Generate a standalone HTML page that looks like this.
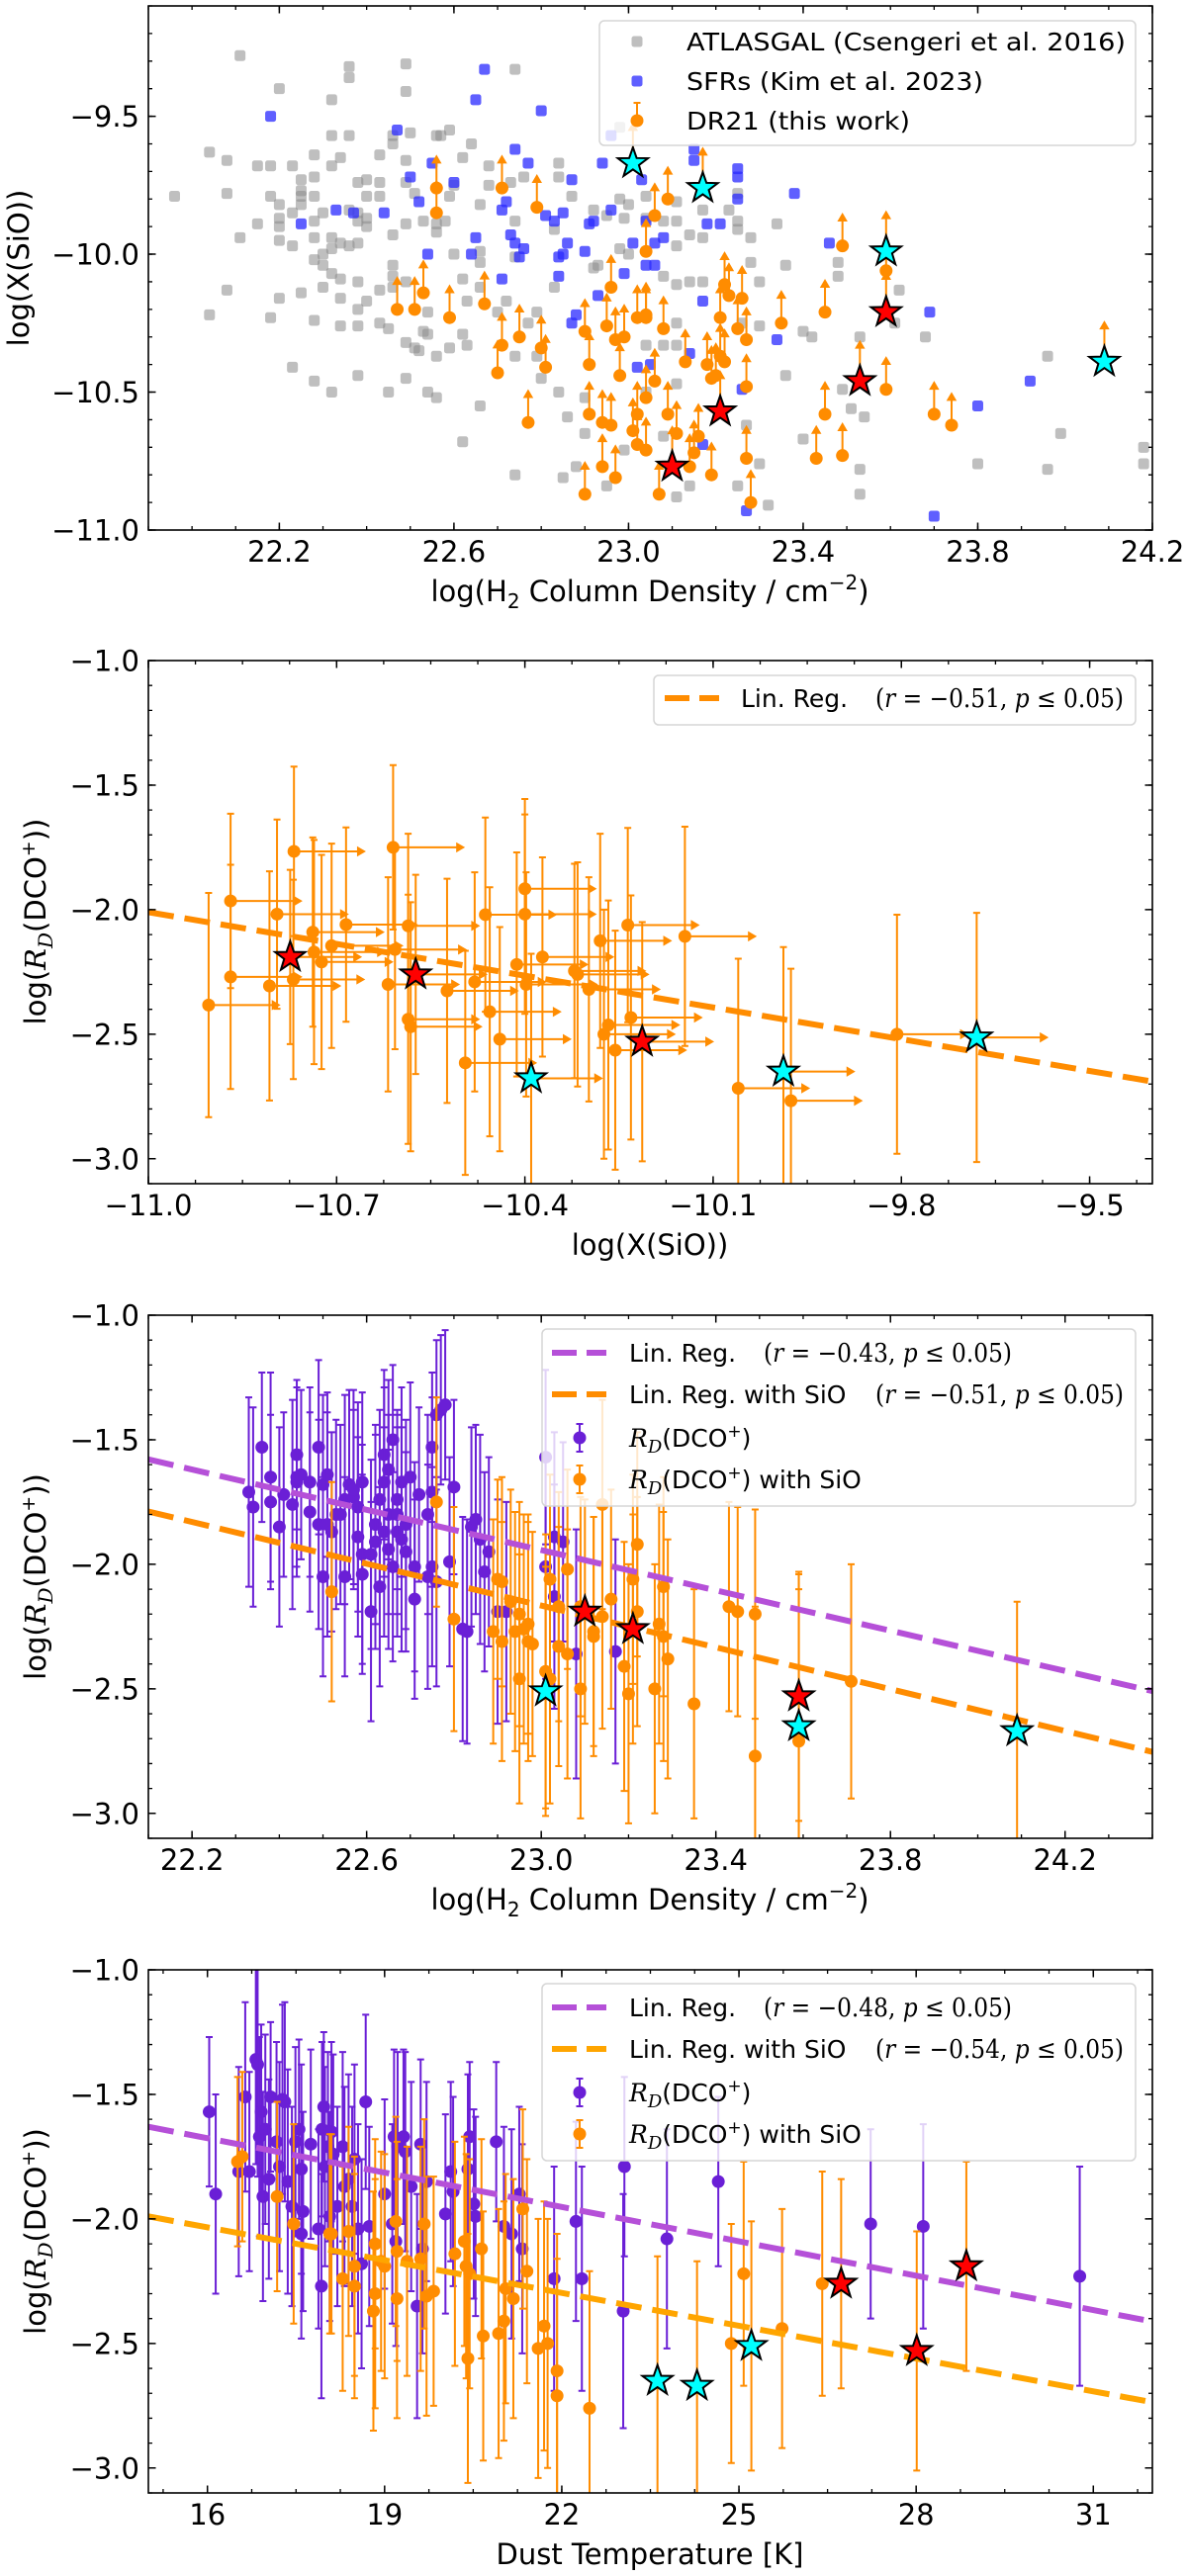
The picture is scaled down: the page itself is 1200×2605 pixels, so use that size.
<!DOCTYPE html>
<html><head><meta charset="utf-8">
<style>
body{margin:0;background:#fff}
svg{display:block}
text{font-family:"DejaVu Sans","Liberation Sans",sans-serif;fill:#000}
.m{font-family:"DejaVu Serif","Liberation Serif",serif}
</style></head>
<body>
<svg id="fig" width="1200" height="2605" viewBox="0 0 1200 2605" xmlns="http://www.w3.org/2000/svg"></svg>
<script>
// ---------- Panel 1 data ----------
const atlasX=[21.96,22.04,22.04,22.08,22.08,22.08,22.11,22.11,22.15,22.15,22.18,22.18,22.18,22.20,22.20,22.20,22.20,22.20,22.20,22.23,22.23,22.23,22.23,22.25,22.25,22.25,22.25,22.25,22.28,22.28,22.28,22.28,22.28,22.28,22.28,22.28,22.30,22.30,22.30,22.30,22.32,22.32,22.32,22.32,22.32,22.32,22.32,22.34,22.34,22.34,22.34,22.34,22.36,22.36,22.36,22.36,22.36,22.38,22.38,22.38,22.38,22.38,22.38,22.38,22.38,22.40,22.40,22.40,22.40,22.40,22.43,22.43,22.43,22.43,22.43,22.45,22.45,22.46,22.46,22.46,22.46,22.46,22.46,22.49,22.49,22.49,22.49,22.49,22.49,22.49,22.49,22.50,22.51,22.51,22.52,22.53,22.53,22.54,22.54,22.54,22.56,22.56,22.56,22.56,22.56,22.57,22.58,22.59,22.59,22.59,22.60,22.60,22.62,22.62,22.62,22.62,22.63,22.64,22.63,22.66,22.66,22.66,22.66,22.66,22.68,22.68,22.70,22.72,22.73,22.74,22.74,22.74,22.74,22.74,22.76,22.77,22.79,22.79,22.80,22.83,22.83,22.84,22.84,22.85,22.84,22.86,22.87,22.88,22.90,22.90,22.92,22.92,
22.98,22.98,23.00,22.95,22.99,22.98,23.00,22.93,23.04,23.04,23.08,23.11,23.11,23.11,23.11,23.14,23.17,23.17,23.17,23.14,23.08,23.11,23.11,23.08,23.04,23.11,23.04,23.08,22.99,22.95,23.14,23.11,23.23,23.25,23.25,23.25,23.28,23.28,23.30,23.30,23.26,23.27,23.30,23.25,23.32,23.34,23.36,23.36,23.40,23.42,23.40,23.48,23.48,23.49,23.51,23.53,23.54,23.53,23.53,23.61,23.62,23.68,23.80,23.96,23.96,23.99,24.18,24.18];
const atlasY=[-9.79,-9.63,-10.22,-9.66,-9.78,-10.13,-9.28,-9.94,-9.68,-9.89,-9.68,-9.79,-10.23,-9.40,-9.82,-9.87,-9.90,-9.95,-10.16,-9.68,-9.85,-9.97,-10.41,-9.73,-9.77,-9.79,-9.82,-10.14,-9.64,-9.72,-9.79,-9.88,-9.94,-10.02,-10.24,-10.46,-9.85,-10.00,-10.04,-10.12,-9.44,-9.57,-9.68,-9.94,-9.98,-10.07,-10.50,-9.65,-9.96,-10.09,-10.16,-10.26,-9.32,-9.36,-9.57,-9.84,-9.97,-9.74,-9.85,-9.88,-9.96,-10.10,-10.20,-10.26,-10.44,-9.73,-9.79,-9.87,-9.90,-10.17,-9.64,-9.74,-9.79,-10.13,-10.25,-10.27,-10.50,-9.57,-9.60,-9.93,-10.04,-10.08,-10.12,-9.31,-9.41,-9.66,-9.74,-9.89,-10.10,-10.32,-10.45,-9.56,-9.78,-10.34,-10.35,-9.88,-10.28,-10.21,-10.29,-10.50,-9.57,-9.89,-9.92,-10.37,-10.52,-9.57,-9.88,-9.55,-9.79,-10.34,-10.00,-9.75,-9.65,-10.09,-10.29,-10.68,-10.33,-9.60,-10.17,-9.82,-9.99,-10.03,-10.12,-10.55,-9.68,-9.75,-10.21,-10.17,-9.74,-9.33,-9.88,-10.01,-10.37,-10.80,-9.72,-10.25,-10.37,-10.21,-10.45,-9.91,-10.12,-9.72,-9.67,-10.81,-10.50,-10.59,-9.79,-10.77,-10.65,-10.52,-10.05,-9.84,
-9.54,-9.80,-9.82,-9.86,-9.87,-9.98,-10.00,-10.04,-9.79,-9.87,-9.88,-9.81,-9.88,-9.97,-10.11,-9.93,-9.84,-9.94,-10.10,-10.10,-10.08,-10.25,-10.33,-10.33,-10.33,-10.47,-10.50,-10.66,-10.71,-10.84,-10.84,-10.88,-9.84,-9.78,-9.88,-9.91,-9.94,-10.03,-10.10,-10.26,-10.25,-10.62,-10.76,-10.84,-10.91,-9.89,-10.04,-10.44,-10.28,-10.30,-10.67,-10.03,-10.08,-10.49,-10.56,-10.30,-10.59,-10.78,-10.87,-10.25,-10.13,-10.30,-10.76,-10.37,-10.78,-10.65,-10.70,-10.76];
const sfrX=[22.18,22.25,22.33,22.37,22.44,22.47,22.50,22.52,22.54,22.55,22.60,22.64,22.65,22.65,22.67,22.71,22.72,22.71,22.73,22.74,22.74,22.75,22.76,22.77,22.80,22.81,22.83,22.84,22.84,22.85,22.86,22.85,22.87,22.87,22.88,22.90,22.91,
22.94,22.92,22.96,23.03,22.93,23.01,23.04,23.06,23.04,23.06,23.08,22.99,23.02,23.05,23.15,23.15,23.18,23.21,23.17,23.14,23.25,23.25,23.25,23.26,23.17,23.27,23.34,23.38,23.46,23.69,23.92,23.80,23.70,22.96];
const sfrY=[-9.50,-9.89,-9.84,-9.85,-9.85,-9.55,-9.72,-9.81,-10.00,-9.67,-9.74,-10.00,-9.44,-9.94,-9.33,-9.84,-9.81,-10.09,-9.93,-9.62,-9.96,-10.01,-9.98,-9.67,-9.48,-9.86,-9.88,-10.01,-10.08,-10.00,-9.96,-9.85,-9.73,-10.25,-10.22,-9.99,-9.89,
-9.67,-9.88,-9.84,-9.73,-10.15,-9.96,-10.04,-10.04,-9.88,-9.96,-9.94,-10.07,-10.41,-10.40,-9.62,-9.66,-9.89,-9.89,-10.17,-10.36,-9.69,-9.72,-9.80,-10.49,-10.69,-10.93,-10.31,-9.78,-9.96,-10.21,-10.46,-10.55,-10.95,-9.57];
const dr21X=[22.56,22.56,22.47,22.51,22.53,22.59,22.67,22.71,22.71,22.70,22.75,22.77,22.79,22.80,22.81,22.90,22.91,22.91,22.90,
23.09,23.06,23.04,22.96,22.95,22.97,22.99,22.98,23.02,23.04,23.04,23.08,23.06,23.04,23.02,22.94,22.96,23.01,23.02,23.04,22.94,22.97,23.07,23.09,23.11,23.13,23.14,23.15,23.16,23.19,23.18,23.19,23.21,23.22,23.20,23.21,23.22,23.23,23.25,23.26,23.27,23.27,23.27,23.28,23.35,23.43,23.45,23.45,23.49,23.49,23.59,23.59,23.70,23.74];
const dr21Y=[-9.85,-9.76,-10.20,-10.20,-10.14,-10.23,-10.18,-9.76,-10.33,-10.43,-10.30,-10.61,-9.83,-10.34,-10.41,-10.28,-10.40,-10.58,-10.87,
-9.80,-9.86,-9.99,-10.12,-10.26,-10.31,-10.30,-10.44,-10.23,-10.22,-10.23,-10.27,-10.46,-10.52,-10.58,-10.61,-10.62,-10.64,-10.69,-10.71,-10.77,-10.81,-10.87,-10.58,-10.65,-10.39,-10.77,-10.72,-10.66,-10.80,-10.40,-10.45,-10.37,-10.39,-10.44,-10.23,-10.11,-10.15,-10.27,-10.16,-10.31,-10.48,-10.74,-10.90,-10.25,-10.74,-10.58,-10.21,-10.73,-9.97,-10.06,-10.49,-10.58,-10.62];
const p1CyanX=[23.01,23.17,23.59,24.09];
const p1CyanY=[-9.67,-9.76,-9.99,-10.39];
const p1RedX=[23.59,23.53,23.21,23.10];
const p1RedY=[-10.21,-10.46,-10.57,-10.77];
const p1XTicks=[22.2,22.6,23.0,23.4,23.8,24.2];
const p1XTickLabels=["22.2","22.6","23.0","23.4","23.8","24.2"];
const p1YTicks=[-9.5,-10.0,-10.5,-11.0];
const p1YTickLabels=["\u22129.5","\u221210.0","\u221210.5","\u221211.0"];

// ---------- Panel 2 data ----------
const p2X=[-10.904,-10.869,-10.869,-10.807,-10.795,-10.774,-10.768,-10.769,-10.738,-10.736,-10.724,-10.708,-10.685,-10.618,-10.61,-10.607,-10.586,-10.574,-10.586,-10.582,-10.524,-10.495,-10.48,-10.463,-10.456,-10.44,-10.413,-10.40,-10.40,-10.398,-10.39,-10.372,-10.321,-10.316,-10.298,-10.28,-10.274,-10.267,-10.256,-10.236,-10.231,-10.213,-10.145,-10.06,-9.988,-9.976,-9.807,-9.68];
const p2Y=[-2.383,-1.965,-2.27,-2.306,-2.018,-2.19,-1.766,-2.28,-2.09,-2.17,-2.21,-2.145,-2.06,-2.30,-1.75,-2.16,-2.065,-2.26,-2.44,-2.47,-2.326,-2.615,-2.29,-2.02,-2.41,-2.52,-2.22,-1.916,-2.018,-2.30,-2.677,-2.19,-2.246,-2.26,-2.32,-2.125,-2.50,-2.463,-2.564,-2.062,-2.433,-2.53,-2.107,-2.717,-2.65,-2.767,-2.50,-2.513];
const p2Err=[0.45,0.35,0.45,0.46,0.38,0.35,0.34,0.40,0.38,0.45,0.43,0.41,0.39,0.43,0.33,0.40,0.37,0.40,0.50,0.50,0.45,0.45,0.44,0.39,0.50,0.45,0.45,0.36,0.40,0.45,0.50,0.40,0.43,0.45,0.45,0.43,0.50,0.50,0.48,0.39,0.49,0.48,0.44,0.52,0.50,0.53,0.48,0.50];
const p2RedX=[-10.774,-10.574,-10.213];
const p2RedY=[-2.19,-2.26,-2.53];
const p2CyanX=[-10.39,-9.988,-9.68];
const p2CyanY=[-2.677,-2.65,-2.513];
const p2LineX=[-11.0,-9.4];
const p2LineY=[-2.01,-2.69];
const p2XTicks=[-11.0,-10.7,-10.4,-10.1,-9.8,-9.5];
const p2XTickLabels=["\u221211.0","\u221210.7","\u221210.4","\u221210.1","\u22129.8","\u22129.5"];
const rdYTicks=[-1.0,-1.5,-2.0,-2.5,-3.0];
const rdYTickLabels=["\u22121.0","\u22121.5","\u22122.0","\u22122.5","\u22123.0"];

// ---------- Panel 3 data ----------
const p3PurX=[22.33,22.34,22.36,22.38,22.38,22.40,22.41,22.43,22.44,22.44,22.44,22.45,22.47,22.47,22.49,22.49,22.50,22.50,22.51,22.51,22.52,22.53,22.54,22.55,22.55,22.56,22.57,22.57,22.58,22.58,22.59,22.59,22.59,22.61,22.61,22.62,22.62,22.63,22.63,22.64,22.64,22.64,22.65,22.65,22.65,22.66,22.66,22.67,22.67,22.67,22.68,22.68,22.69,22.69,22.70,22.71,22.71,22.72,22.74,22.74,22.75,22.75,22.75,22.76,22.76,22.77,22.78,22.79,22.80,22.82,22.83,22.84,22.85,22.86,22.87,22.88,22.90,22.92,23.01,23.01,23.03,23.03,23.05,23.08,23.17];
const p3PurY=[-1.71,-1.77,-1.53,-1.65,-1.75,-1.85,-1.72,-1.76,-1.67,-1.56,-1.65,-1.64,-1.79,-1.67,-1.53,-1.84,-2.05,-1.68,-1.64,-1.84,-1.87,-1.80,-1.80,-1.74,-2.05,-1.68,-1.73,-1.70,-1.77,-1.89,-1.67,-1.96,-2.04,-1.96,-2.19,-1.84,-1.91,-1.74,-2.09,-1.87,-1.56,-1.67,-1.80,-1.94,-1.62,-2.01,-1.50,-1.87,-1.74,-1.80,-1.90,-1.67,-1.95,-1.84,-1.65,-2.01,-2.14,-1.72,-1.80,-2.05,-1.53,-1.71,-2.01,-2.07,-1.40,-1.38,-1.36,-1.99,-1.69,-2.26,-2.27,-1.85,-1.82,-1.90,-2.03,-1.95,-2.19,-2.19,-1.57,-2.01,-1.89,-2.13,-1.91,-2.36,-2.35];
const p3PurErr=[0.38,0.40,0.30,0.42,0.35,0.40,0.33,0.42,0.38,0.30,0.36,0.34,0.40,0.38,0.35,0.42,0.40,0.36,0.33,0.45,0.40,0.38,0.36,0.42,0.40,0.38,0.35,0.40,0.42,0.40,0.36,0.44,0.40,0.38,0.44,0.40,0.43,0.36,0.40,0.42,0.34,0.38,0.40,0.40,0.36,0.38,0.30,0.42,0.36,0.40,0.45,0.38,0.40,0.42,0.38,0.42,0.40,0.35,0.40,0.45,0.30,0.38,0.40,0.42,0.30,0.30,0.30,0.42,0.35,0.45,0.45,0.40,0.38,0.42,0.40,0.38,0.45,0.44,0.35,0.45,0.42,0.45,0.40,0.50,0.45];
const p3OrX=[22.52,22.76,22.80,22.89,22.90,22.91,22.91,22.93,22.94,22.95,22.95,22.96,22.97,22.97,22.98,23.01,23.02,23.02,23.04,23.04,23.06,23.06,23.09,23.09,23.12,23.14,23.12,23.14,23.16,23.19,23.20,23.21,23.22,23.22,23.26,23.27,23.28,23.28,23.29,23.35,23.43,23.45,23.49,23.49,23.59,23.71,23.10,23.21,23.59,23.01,23.59,24.09];
const p3OrY=[-2.11,-1.75,-2.22,-2.27,-2.06,-2.31,-2.07,-2.15,-2.27,-2.46,-2.20,-2.26,-2.31,-2.24,-2.32,-2.43,-2.06,-2.46,-2.17,-2.33,-2.02,-2.36,-2.50,-2.17,-2.27,-1.76,-2.29,-2.21,-2.14,-2.41,-2.52,-2.06,-1.92,-2.19,-2.50,-2.24,-2.09,-2.29,-2.38,-2.56,-2.17,-2.19,-2.20,-2.77,-2.71,-2.47,-2.19,-2.26,-2.53,-2.51,-2.65,-2.67];
const p3OrErr=[0.44,0.42,0.45,0.45,0.40,0.48,0.42,0.45,0.48,0.50,0.45,0.46,0.48,0.44,0.45,0.55,0.42,0.50,0.46,0.48,0.40,0.50,0.52,0.44,0.46,0.42,0.48,0.45,0.44,0.50,0.52,0.42,0.45,0.46,0.50,0.48,0.44,0.50,0.48,0.46,0.42,0.42,0.42,0.60,0.67,0.47,0.45,0.46,0.50,0.50,0.55,0.52];
const p3RedX=[23.10,23.21,23.59];
const p3RedY=[-2.19,-2.26,-2.53];
const p3CyanX=[23.01,23.59,24.09];
const p3CyanY=[-2.51,-2.65,-2.67];
const p3PurLineX=[22.1,24.4];
const p3PurLineY=[-1.579,-2.509];
const p3OrLineX=[22.1,24.4];
const p3OrLineY=[-1.788,-2.753];
const p3XTicks=[22.2,22.6,23.0,23.4,23.8,24.2];
const p3XTickLabels=["22.2","22.6","23.0","23.4","23.8","24.2"];

// ---------- Panel 4 data ----------
const p4PurX=[16.03,16.14,16.53,16.64,16.71,16.82,16.85,16.88,16.91,16.94,16.98,17.04,17.07,17.17,17.22,17.27,17.31,17.36,17.43,17.49,17.55,17.59,17.62,17.59,17.75,17.88,17.93,17.94,17.97,17.99,18.04,18.07,18.10,18.13,18.20,18.29,18.32,18.39,18.45,18.49,18.55,18.61,18.68,18.74,19.00,19.13,19.16,19.19,19.22,19.32,19.35,19.45,19.55,19.61,19.64,19.71,20.03,20.12,20.16,20.41,20.44,20.51,20.54,20.89,21.02,21.15,21.28,21.33,21.87,22.24,22.34,23.06,23.04,23.78,24.65,27.23,28.12,30.77];
const p4PurY=[-1.57,-1.90,-1.81,-1.51,-1.81,-1.36,-1.38,-1.67,-1.57,-1.91,-1.64,-1.84,-1.51,-1.69,-1.79,-1.52,-1.53,-1.85,-1.95,-1.69,-1.64,-1.80,-1.97,-2.06,-1.70,-2.04,-2.27,-1.64,-1.55,-1.79,-1.71,-1.99,-1.65,-1.74,-1.95,-1.71,-1.87,-1.84,-1.95,-1.76,-2.04,-2.18,-1.53,-2.03,-1.90,-2.02,-1.67,-2.09,-1.71,-1.67,-1.73,-1.87,-2.35,-1.70,-2.12,-1.85,-1.98,-1.81,-1.89,-1.80,-1.67,-1.94,-1.99,-1.69,-2.03,-2.06,-1.90,-2.12,-2.24,-2.01,-2.24,-1.79,-2.37,-2.08,-1.85,-2.02,-2.03,-2.23];
const p4PurErr=[0.30,0.40,0.42,0.38,0.40,0.42,0.45,0.40,0.35,0.42,0.38,0.40,0.30,0.40,0.42,0.38,0.40,0.45,0.40,0.38,0.36,0.42,0.40,0.42,0.38,0.40,0.45,0.35,0.30,0.40,0.38,0.42,0.36,0.40,0.40,0.38,0.40,0.42,0.40,0.38,0.42,0.42,0.35,0.40,0.38,0.40,0.35,0.42,0.38,0.35,0.40,0.42,0.45,0.34,0.42,0.40,0.40,0.36,0.38,0.38,0.30,0.38,0.40,0.32,0.40,0.42,0.35,0.42,0.45,0.40,0.45,0.36,0.47,0.44,0.34,0.38,0.41,0.44];
const p4OrX=[16.51,16.59,17.18,17.46,18.07,18.10,18.29,18.39,18.49,18.49,18.81,18.84,18.84,18.94,19.00,19.19,19.21,19.21,19.38,19.61,19.67,19.71,19.83,20.19,20.35,20.38,20.41,20.44,20.64,20.67,20.93,21.02,21.05,21.18,21.34,21.41,21.60,21.70,21.76,21.92,21.92,22.47,24.87,25.08,25.73,26.41,26.73,28.01,28.85,23.62,24.29,25.21];
const p4OrY=[-1.77,-1.75,-1.91,-2.02,-2.06,-2.06,-2.24,-2.05,-2.19,-2.27,-2.37,-2.10,-2.30,-2.17,-2.19,-2.01,-2.13,-2.32,-2.17,-2.16,-2.02,-2.31,-2.29,-2.14,-2.09,-2.19,-2.56,-2.22,-2.12,-2.47,-2.46,-2.41,-2.28,-2.32,-1.96,-2.21,-2.52,-2.43,-2.50,-2.61,-2.71,-2.76,-2.50,-2.22,-2.44,-2.26,-2.26,-2.53,-2.19,-2.65,-2.67,-2.51];
const p4OrErr=[0.34,0.34,0.38,0.40,0.40,0.40,0.45,0.42,0.44,0.45,0.48,0.42,0.46,0.44,0.45,0.42,0.44,0.48,0.46,0.45,0.42,0.48,0.46,0.45,0.42,0.45,0.50,0.46,0.44,0.50,0.50,0.48,0.46,0.48,0.40,0.45,0.52,0.50,0.50,0.55,0.55,0.55,0.48,0.45,0.48,0.45,0.42,0.48,0.42,0.50,0.50,0.50];
const p4RedX=[26.73,28.01,28.85];
const p4RedY=[-2.26,-2.53,-2.19];
const p4CyanX=[23.62,24.29,25.21];
const p4CyanY=[-2.65,-2.67,-2.51];
const p4PurLineX=[15,32];
const p4PurLineY=[-1.63,-2.412];
const p4OrLineX=[15,32];
const p4OrLineY=[-1.99,-2.736];
const p4XTicks=[16,19,22,25,28,31];
const p4XTickLabels=["16","19","22","25","28","31"];

// ---------- drawing ----------
const NS='http://www.w3.org/2000/svg';
const svg=document.getElementById('fig');
const ORANGE='#ff8c00', PURPLE='#6a1fd6', ORCHID='#b550d8', LORANGE='#ffa500';
function el(p,t,a){const e=document.createElementNS(NS,t);for(const k in a)e.setAttribute(k,a[k]);p.appendChild(e);return e;}

function makeAxes(name,box,xd,yd){
  const sx=v=>box.L+(v-xd[0])/(xd[1]-xd[0])*(box.R-box.L);
  const sy=v=>box.B-(v-yd[0])/(yd[1]-yd[0])*(box.B-box.T);
  const g=el(svg,'g',{});
  
  
  const cp=el(g,'clipPath',{id:name+'-clip'});
  el(cp,'rect',{x:box.L,y:box.T,width:box.R-box.L,height:box.B-box.T});
  const plot=el(g,'g',{'clip-path':'url(#'+name+'-clip)'});
  
  
  return {g,plot,sx,sy,box,xd,yd};
}

function drawFrame(ax,xT,xL,xStep,yT,yL,yStep){
  const {g,sx,sy,box,xd,yd}=ax;
  const fr=el(g,'rect',{x:box.L,y:box.T,width:box.R-box.L,height:box.B-box.T,fill:'none',stroke:'#000','stroke-width':1.6});
  
  
  function minors(T,step,d){const out=[];for(let v=T[0];v>=d[0]-1e-9;v-=step)out.push(v);for(let v=T[0]+step;v<=d[1]+1e-9;v+=step)out.push(v);return out;}
  minors(xT,xStep,xd).forEach(v=>{const x=sx(v);
    const t=el(g,'path',{d:`M${x},${box.B}v-4M${x},${box.T}v4`,stroke:'#000','stroke-width':1.3});
    
    });
  minors(yT,yStep,yd).forEach(v=>{const y=sy(v);
    const t=el(g,'path',{d:`M${box.L},${y}h4M${box.R},${y}h-4`,stroke:'#000','stroke-width':1.3});
    
    });
  xT.forEach((v,i)=>{const x=sx(v);
    const t=el(g,'path',{d:`M${x},${box.B}v-7.5M${x},${box.T}v7.5`,stroke:'#000','stroke-width':1.5});
    
    
    const lb=el(g,'text',{x:x,y:box.B+32,'font-size':29,'text-anchor':'middle'});
    lb.textContent=xL[i];
    
    });
  yT.forEach((v,i)=>{const y=sy(v);
    const t=el(g,'path',{d:`M${box.L},${y}h7.5M${box.R},${y}h-7.5`,stroke:'#000','stroke-width':1.5});
    
    
    const lb=el(g,'text',{x:141,y:y+10.5,'font-size':29,'text-anchor':'end'});
    lb.textContent=yL[i];
    
    });
}

function starPath(cx,cy,R){const r=R*0.4;let d='';for(let k=0;k<10;k++){const a=-Math.PI/2+k*Math.PI/5;const rr=k%2?r:R;d+=(k?'L':'M')+(cx+rr*Math.cos(a)).toFixed(2)+','+(cy+rr*Math.sin(a)).toFixed(2);}return d+'Z';}
function star(p,x,y,fill,name){const s=el(p,'path',{d:starPath(x,y,16),fill:fill,stroke:'#000','stroke-width':2,'stroke-linejoin':'miter'});
  
  }
function vErr(p,x,y1,y2,color,name){const e=el(p,'path',{d:`M${x},${y1}V${y2}M${x-3.5},${y1}h7M${x-3.5},${y2}h7`,stroke:color,'stroke-width':2,fill:'none'});
  
  }
function dashLine(ax,X,Y,color,name){const l=el(ax.plot,'line',{x1:ax.sx(X[0]),y1:ax.sy(Y[0]),x2:ax.sx(X[1]),y2:ax.sy(Y[1]),stroke:color,'stroke-width':6,'stroke-dasharray':'26 11'});
  
  }
function txt(p,x,y,size,s,anchor,name,extra){const t=el(p,'text',Object.assign({x:x,y:y,'font-size':size,'text-anchor':anchor||'start'},extra||{}));t.innerHTML=s;
  
  return t;}

const RDlabel='log(<tspan class="m" font-style="italic">R</tspan><tspan class="m" font-style="italic" font-size="20" dy="7">D</tspan><tspan dy="-7">(DCO</tspan><tspan font-size="19" dy="-11">+</tspan><tspan dy="11">))</tspan>';
const RDleg='<tspan class="m" font-style="italic">R</tspan><tspan class="m" font-style="italic" font-size="18" dy="6">D</tspan><tspan dy="-6">(DCO</tspan><tspan font-size="17" dy="-10">+</tspan><tspan dy="10">)</tspan>';
function mathR(r){return '<tspan class="m">(</tspan><tspan class="m" font-style="italic">r</tspan><tspan class="m"> = \u2212'+r+', </tspan><tspan class="m" font-style="italic">p</tspan><tspan class="m"> \u2264 0.05)</tspan>';}

// ===== Panel 1 =====
const a1=makeAxes('panel-sio-abundance',{L:150,R:1165,T:6,B:536},[21.9,24.2],[-11.0,-9.1]);
atlasX.forEach((v,i)=>{const r=el(a1.plot,'rect',{x:a1.sx(v)-5.5,y:a1.sy(atlasY[i])-5.5,width:11,height:11,rx:2.5,fill:'#8a8a8a','fill-opacity':0.55});
  
  });
sfrX.forEach((v,i)=>{const r=el(a1.plot,'rect',{x:a1.sx(v)-5.5,y:a1.sy(sfrY[i])-5.5,width:11,height:11,rx:2.5,fill:'#2a2aff','fill-opacity':0.75});
  
  });
function upArrow(p,x,y,name){const y2=a1.sy(a1.yd[0])-a1.sy(a1.yd[0]+0.11);const a=el(p,'path',{d:`M${x},${y}v${-y2+4}M${x-3.5},${y-y2+5}L${x},${y-y2-1}L${x+3.5},${y-y2+5}Z`,stroke:ORANGE,'stroke-width':2,fill:ORANGE});
  
  }
dr21X.forEach((v,i)=>{const x=a1.sx(v),y=a1.sy(dr21Y[i]);
  upArrow(a1.plot,x,y,'dr21-lower-limit-arrow');
  const c=el(a1.plot,'circle',{cx:x,cy:y,r:6.5,fill:ORANGE});
  
  });
p1CyanX.forEach((v,i)=>{const x=a1.sx(v),y=a1.sy(p1CyanY[i]);upArrow(a1.plot,x,y-8,'star-arrow');star(a1.plot,x,y,'#00ffff','cyan-star');});
p1RedX.forEach((v,i)=>{const x=a1.sx(v),y=a1.sy(p1RedY[i]);upArrow(a1.plot,x,y-8,'star-arrow');star(a1.plot,x,y,'#ff0000','red-star');});
drawFrame(a1,p1XTicks,p1XTickLabels,0.1,p1YTicks,p1YTickLabels,0.1);
txt(a1.g,657,608,29,'log(H<tspan font-size="20" dy="7">2</tspan><tspan dy="-7"> Column Density / cm</tspan><tspan font-size="20" dy="-12">\u22122</tspan><tspan dy="12">)</tspan>','middle','x-axis-title');
txt(a1.g,0,0,29,'log(X(SiO))','middle','y-axis-title',{transform:'translate(29,271) rotate(-90)'});
// legend 1
{const lg=el(a1.g,'g',{});
 
 
 const bx=el(lg,'rect',{x:606,y:21,width:542,height:126,rx:5,fill:'#fff','fill-opacity':0.8,stroke:'#d5d5d5','stroke-width':1.5});
 
 
 const s1=el(lg,'rect',{x:638.5,y:36.5,width:11,height:11,rx:2.5,fill:'#8a8a8a','fill-opacity':0.55});
 
 
 const s2=el(lg,'rect',{x:638.5,y:76.5,width:11,height:11,rx:2.5,fill:'#2a2aff','fill-opacity':0.75});
 
 
 const s3=el(lg,'path',{d:'M644,122V103M640.5,104h7',stroke:ORANGE,'stroke-width':2});
 
 
 const s4=el(lg,'circle',{cx:644,cy:122,r:6.5,fill:ORANGE});
 
 
 txt(lg,694,51,25,'ATLASGAL (Csengeri et al. 2016)','start','legend-entry-atlasgal',{textLength:444,lengthAdjust:'spacingAndGlyphs'});
 txt(lg,694,91,25,'SFRs (Kim et al. 2023)','start','legend-entry-sfr',{textLength:300,lengthAdjust:'spacingAndGlyphs'});
 txt(lg,694,131,25,'DR21 (this work)','start','legend-entry-dr21',{textLength:226,lengthAdjust:'spacingAndGlyphs'});}

// ===== Panel 2 =====
const a2=makeAxes('panel-rd-vs-sio',{L:150,R:1165,T:668,B:1197},[-11.0,-9.4],[-3.1,-1.0]);
p2X.forEach((v,i)=>{const x=a2.sx(v),y=a2.sy(p2Y[i]),e=p2Err[i]||0.45;
  vErr(a2.plot,x,a2.sy(p2Y[i]+e),a2.sy(p2Y[i]-e),ORANGE,'error-bar');
  const x2=a2.sx(v+0.11);
  const ar=el(a2.plot,'path',{d:`M${x},${y}H${x2-3}M${x2-5},${y-3.5}L${x2+1},${y}L${x2-5},${y+3.5}Z`,stroke:ORANGE,'stroke-width':2,fill:ORANGE});
  
  
  const c=el(a2.plot,'circle',{cx:x,cy:y,r:6.5,fill:ORANGE});
  
  });
dashLine(a2,p2LineX,p2LineY,ORANGE,'regression-line');
p2RedX.forEach((v,i)=>star(a2.plot,a2.sx(v),a2.sy(p2RedY[i]),'#ff0000','red-star'));
p2CyanX.forEach((v,i)=>star(a2.plot,a2.sx(v),a2.sy(p2CyanY[i]),'#00ffff','cyan-star'));
drawFrame(a2,p2XTicks,p2XTickLabels,0.075,rdYTicks,rdYTickLabels,0.1);
txt(a2.g,657,1269,29,'log(X(SiO))','middle','x-axis-title');
txt(a2.g,0,0,29,RDlabel,'middle','y-axis-title',{transform:'translate(46,932) rotate(-90)'});
{const lg=el(a2.g,'g',{});
 
 
 const bx=el(lg,'rect',{x:661,y:683,width:487,height:50,rx:5,fill:'#fff','fill-opacity':0.8,stroke:'#d5d5d5','stroke-width':1.5});
 
 
 const ln=el(lg,'line',{x1:672,y1:706,x2:727,y2:706,stroke:ORANGE,'stroke-width':6,'stroke-dasharray':'25 10'});
 
 
 txt(lg,749,715,25,'Lin. Reg.','start','legend-entry-label');
 txt(lg,885,715,26,mathR('0.51'),'start','legend-entry-stats',{textLength:251,lengthAdjust:'spacingAndGlyphs'});}

// ===== Panel 3 / 4 shared =====
function rdPanel(name,box,xd,purX,purY,purE,orX,orY,orE,purLX,purLY,orLX,orLY,orLineColor,redX,redY,cyX,cyY,xT,xL,xStep,xlabel,rVals){
  const ax=makeAxes(name,box,xd,[-3.1,-1.0]);
  purX.forEach((v,i)=>{const x=ax.sx(v),e=purE[i]||0.4;
    vErr(ax.plot,x,ax.sy(purY[i]+e),ax.sy(purY[i]-e),PURPLE,'purple-error-bar');
    const c=el(ax.plot,'circle',{cx:x,cy:ax.sy(purY[i]),r:6.5,fill:PURPLE});
    
    });
  orX.forEach((v,i)=>{const x=ax.sx(v),e=orE[i]||0.45;
    vErr(ax.plot,x,ax.sy(orY[i]+e),ax.sy(orY[i]-e),ORANGE,'orange-error-bar');
    const c=el(ax.plot,'circle',{cx:x,cy:ax.sy(orY[i]),r:6.5,fill:ORANGE});
    
    });
  dashLine(ax,purLX,purLY,ORCHID,'regression-line-all');
  dashLine(ax,orLX,orLY,orLineColor,'regression-line-with-sio');
  redX.forEach((v,i)=>star(ax.plot,ax.sx(v),ax.sy(redY[i]),'#ff0000','red-star'));
  cyX.forEach((v,i)=>star(ax.plot,ax.sx(v),ax.sy(cyY[i]),'#00ffff','cyan-star'));
  drawFrame(ax,xT,xL,xStep,rdYTicks,rdYTickLabels,0.1);
  txt(ax.g,657,box.B+72,29,xlabel,'middle','x-axis-title');
  txt(ax.g,0,0,29,RDlabel,'middle','y-axis-title',{transform:`translate(46,${(box.T+box.B)/2}) rotate(-90)`});
  const T=box.T;
  const lg=el(ax.g,'g',{});
  
  
  const bx=el(lg,'rect',{x:548,y:T+14,width:600,height:179,rx:5,fill:'#fff','fill-opacity':0.8,stroke:'#d5d5d5','stroke-width':1.5});
  
  
  const y1=T+38,y2=T+80,y3=T+124,y4=T+166;
  const l1=el(lg,'line',{x1:558,y1:y1,x2:613,y2:y1,stroke:ORCHID,'stroke-width':6,'stroke-dasharray':'25 10'});
  
  
  const l2=el(lg,'line',{x1:558,y1:y2,x2:613,y2:y2,stroke:orLineColor,'stroke-width':6,'stroke-dasharray':'25 10'});
  
  
  vErr(lg,586,y3-14,y3+14,PURPLE,'legend-error-bar');
  const m1=el(lg,'circle',{cx:586,cy:y3,r:6.5,fill:PURPLE});
  
  
  vErr(lg,586,y4-14,y4+14,ORANGE,'legend-error-bar');
  const m2=el(lg,'circle',{cx:586,cy:y4,r:6.5,fill:ORANGE});
  
  
  txt(lg,636,y1+9,25,'Lin. Reg.','start','legend-entry-label');
  txt(lg,772,y1+9,26,mathR(rVals[0]),'start','legend-entry-stats',{textLength:251,lengthAdjust:'spacingAndGlyphs'});
  txt(lg,636,y2+9,25,'Lin. Reg. with SiO','start','legend-entry-label');
  txt(lg,885,y2+9,26,mathR(rVals[1]),'start','legend-entry-stats',{textLength:251,lengthAdjust:'spacingAndGlyphs'});
  txt(lg,636,y3+9,25,RDleg,'start','legend-entry-rd');
  txt(lg,636,y4+9,25,RDleg+' with SiO','start','legend-entry-rd-sio');
  return ax;
}
rdPanel('panel-rd-vs-column-density',{L:150,R:1165,T:1330,B:1859},[22.1,24.4],
  p3PurX,p3PurY,p3PurErr,p3OrX,p3OrY,p3OrErr,p3PurLineX,p3PurLineY,p3OrLineX,p3OrLineY,ORANGE,
  p3RedX,p3RedY,p3CyanX,p3CyanY,p3XTicks,p3XTickLabels,0.1,
  'log(H<tspan font-size="20" dy="7">2</tspan><tspan dy="-7"> Column Density / cm</tspan><tspan font-size="20" dy="-12">\u22122</tspan><tspan dy="12">)</tspan>',['0.43','0.51']);
rdPanel('panel-rd-vs-dust-temperature',{L:150,R:1165,T:1992,B:2521},[15,32],
  p4PurX,p4PurY,p4PurErr,p4OrX,p4OrY,p4OrErr,p4PurLineX,p4PurLineY,p4OrLineX,p4OrLineY,LORANGE,
  p4RedX,p4RedY,p4CyanX,p4CyanY,p4XTicks,p4XTickLabels,0.75,
  'Dust Temperature [K]',['0.48','0.54']);
</script>
</body></html>
